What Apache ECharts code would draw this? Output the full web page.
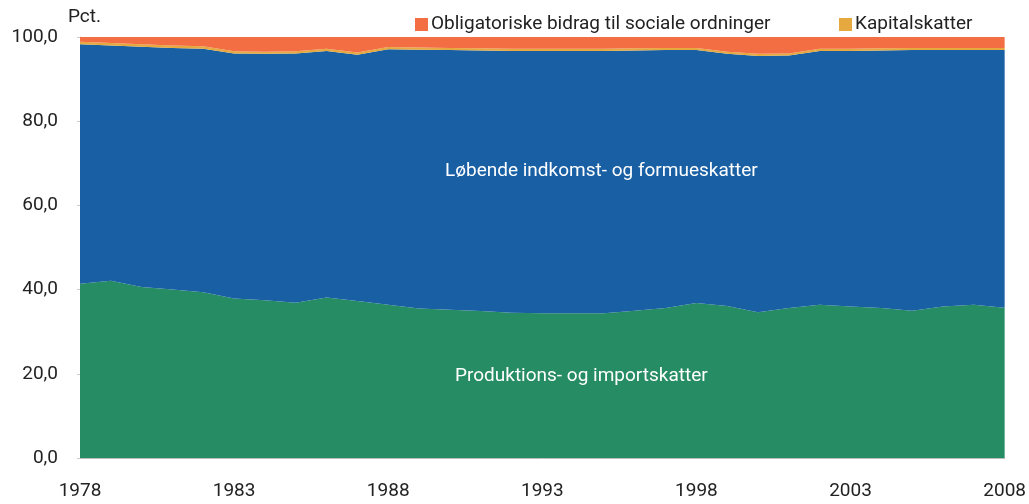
<!DOCTYPE html>
<html>
<head>
<meta charset="utf-8">
<script src="https://cdn.jsdelivr.net/npm/echarts@6/dist/echarts.min.js"></script>
<style>
html,body{margin:0;padding:0;background:#fff;}
#c{width:1029px;height:504px;}
</style>
</head>
<body>
<div id="c"></div>
<script>
var years = ['1978','1979','1980','1981','1982','1983','1984','1985','1986','1987','1988','1989','1990','1991','1992','1993','1994','1995','1996','1997','1998','1999','2000','2001','2002','2003','2004','2005','2006','2007','2008'];
var produktion = [41.4,42.1,40.6,40.0,39.4,37.9,37.5,36.9,38.1,37.3,36.4,35.5,35.2,34.9,34.5,34.4,34.4,34.4,35.0,35.6,36.8,36.1,34.6,35.6,36.4,36.0,35.6,35.0,36.0,36.4,35.7];
var loebende = [56.9,55.9,57.1,57.4,57.8,58.2,58.5,59.2,58.6,58.5,60.7,61.5,61.7,61.9,62.2,62.3,62.3,62.3,61.8,61.3,60.1,59.9,60.9,60.0,60.3,60.7,61.2,61.9,60.9,60.5,61.2];
var kapital = [0.6,0.6,0.6,0.6,0.6,0.5,0.5,0.5,0.5,0.5,0.5,0.5,0.5,0.5,0.5,0.5,0.5,0.5,0.5,0.5,0.5,0.5,0.5,0.5,0.5,0.5,0.5,0.5,0.5,0.5,0.5];
var obligatoriske = [1.1,1.4,1.7,2.0,2.2,3.4,3.5,3.4,2.8,3.7,2.4,2.5,2.6,2.7,2.8,2.8,2.8,2.8,2.7,2.6,2.6,3.5,4.0,3.9,2.8,2.8,2.7,2.6,2.6,2.6,2.6];

var FONT = 'Roboto, sans-serif';
var cGreen = '#258C63', cBlue = '#185FA4', cYellow = '#E6A940', cOrange = '#F36E42';

function areaSeries(name, data, color) {
  return {
    name: name, type: 'line', stack: 'total', data: data,
    symbol: 'none', showSymbol: false,
    lineStyle: { width: 0, color: color },
    itemStyle: { color: color },
    areaStyle: { color: color, opacity: 1 },
    emphasis: { disabled: true },
    animation: false
  };
}

var chart = echarts.init(document.getElementById('c'), null, { renderer: 'canvas' });
chart.setOption({
  animation: false,
  textStyle: { fontFamily: FONT },
  grid: { left: 80, right: 20, top: 37, bottom: 46, containLabel: false },
  legend: [
    { data: ['Obligatoriske bidrag til sociale ordninger'], left: 410, top: 10, itemWidth: 13, itemHeight: 13, icon: 'rect', itemGap: 6,
      textStyle: { fontFamily: FONT, fontSize: 19, color: '#222', padding: [0, 0, 0, -2] } },
    { data: ['Kapitalskatter'], left: 834, top: 10, itemWidth: 13, itemHeight: 13, icon: 'rect',
      textStyle: { fontFamily: FONT, fontSize: 19, color: '#222', padding: [0, 0, 0, -2] } }
  ],
  xAxis: {
    type: 'category', data: years, boundaryGap: false,
    axisLine: { show: true, lineStyle: { color: '#bbb' } },
    axisTick: { show: false },
    axisLabel: {
      interval: 4, margin: 24, fontFamily: FONT, fontSize: 19, color: '#222',
      showMinLabel: true, showMaxLabel: true
    },
    splitLine: { show: false }
  },
  yAxis: {
    type: 'value', min: 0, max: 100, interval: 20,
    name: 'Pct.', nameLocation: 'end', nameGap: 10,
    nameTextStyle: { fontFamily: FONT, fontSize: 19, color: '#222', align: 'left', padding: [0, 0, 0, -12] },
    axisLine: { show: true, lineStyle: { color: '#ccc' } },
    axisTick: { show: true, length: 3, lineStyle: { color: '#ccc' } },
    axisLabel: {
      margin: 22, fontFamily: FONT, fontSize: 19, color: '#222',
      formatter: function (v) { return v.toFixed(1).replace('.', ','); }
    },
    splitLine: { show: false }
  },
  series: [
    areaSeries('Produktions- og importskatter', produktion, cGreen),
    areaSeries('Løbende indkomst- og formueskatter', loebende, cBlue),
    areaSeries('Kapitalskatter', kapital, cYellow),
    areaSeries('Obligatoriske bidrag til sociale ordninger', obligatoriske, cOrange)
  ],
  graphic: [
    { type: 'text', left: 445, top: 162, z: 100, silent: true,
      style: { text: 'Løbende indkomst- og formueskatter', fill: '#ffffff', fontSize: 19, fontFamily: FONT } },
    { type: 'text', left: 455, top: 367, z: 100, silent: true,
      style: { text: 'Produktions- og importskatter', fill: '#ffffff', fontSize: 19, fontFamily: FONT } }
  ]
});
</script>
</body>
</html>
